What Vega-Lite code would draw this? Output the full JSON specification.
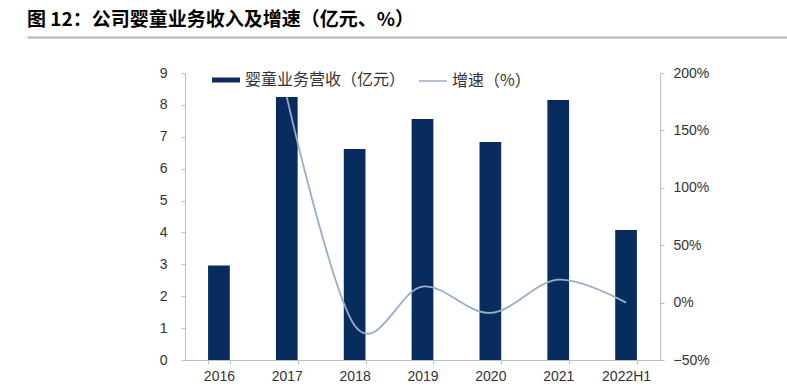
{
  "$schema": "https://vega.github.io/schema/vega-lite/v6.json",
  "padding": {"left": 27, "top": 11, "right": 0, "bottom": 0},
  "spacing": 28,
  "config": {"view": {"stroke": null}, "font": "Liberation Sans"},
  "datasets": {
    "main": [
      {"year": "2016", "revenue": 2.96, "growth": null},
      {"year": "2017", "revenue": 8.25, "growth": 1.79},
      {"year": "2018", "revenue": 6.62, "growth": -0.20},
      {"year": "2019", "revenue": 7.56, "growth": 0.14},
      {"year": "2020", "revenue": 6.84, "growth": -0.09},
      {"year": "2021", "revenue": 8.15, "growth": 0.20},
      {"year": "2022H1", "revenue": 4.08, "growth": 0.0}
    ]
  },
  "vconcat": [
    {
      "width": 760,
      "height": 1,
      "title": {
        "text": "图 12：公司婴童业务收入及增速（亿元、%）",
        "anchor": "start",
        "frame": "group",
        "font": "Noto Sans CJK SC",
        "fontSize": 19,
        "fontWeight": "bold",
        "color": "#000000",
        "offset": 7
      },
      "data": {"values": []},
      "mark": "rule",
      "encoding": {
        "x": {
          "field": "a",
          "type": "quantitative",
          "scale": {"domain": [0, 1]},
          "axis": {
            "orient": "top",
            "title": null,
            "labels": false,
            "ticks": false,
            "grid": false,
            "domainColor": "#b4b4b4",
            "domainWidth": 2
          }
        }
      }
    },
    {
      "width": 633,
      "height": 287,
      "data": {"name": "main"},
      "layer": [
        {
          "mark": {"type": "bar", "color": "#082c5d"},
          "encoding": {
            "x": {
              "field": "year",
              "type": "nominal",
              "sort": null,
              "scale": {"range": [158, 633], "paddingInner": 0.68, "paddingOuter": 0.34},
              "axis": {
                "title": null,
                "labelAngle": 0,
                "labelFont": "Liberation Sans",
                "labelFontSize": 14,
                "labelColor": "#333333",
                "labelPadding": 5,
                "tickBand": "extent",
                "tickSize": 4,
                "tickColor": "#bfbfbf",
                "domainColor": "#bfbfbf",
                "grid": false
              }
            },
            "y": {
              "field": "revenue",
              "type": "quantitative",
              "scale": {"domain": [0, 9], "nice": false},
              "axis": {
                "title": null,
                "offset": -158,
                "values": [0, 1, 2, 3, 4, 5, 6, 7, 8, 9],
                "format": "d",
                "labelFont": "Liberation Sans",
                "labelFontSize": 14,
                "labelColor": "#333333",
                "labelPadding": 14,
                "tickSize": 4,
                "tickColor": "#bfbfbf",
                "domainColor": "#bfbfbf",
                "grid": false
              }
            },
            "fill": {
              "datum": "婴童业务营收（亿元）",
              "type": "nominal",
              "scale": {"range": ["#082c5d"]},
              "legend": {
                "orient": "none",
                "legendX": 185,
                "legendY": -7,
                "title": null,
                "symbolType": "M-1,-0.18H1V0.18H-1Z",
                "symbolSize": 784,
                "symbolStrokeWidth": 0,
                "labelFont": "Noto Sans CJK SC",
                "labelFontSize": 16,
                "labelColor": "#333333",
                "labelOffset": 5,
                "labelLimit": 300,
                "padding": 0
              }
            }
          }
        },
        {
          "mark": {"type": "line", "interpolate": "cardinal", "strokeWidth": 1.8},
          "encoding": {
            "x": {"field": "year", "type": "nominal", "sort": null},
            "y": {
              "field": "growth",
              "type": "quantitative",
              "scale": {"domain": [-0.5, 2.0], "nice": false},
              "axis": {
                "title": null,
                "orient": "right",
                "values": [-0.5, 0, 0.5, 1.0, 1.5, 2.0],
                "format": ".0%",
                "labelFont": "Liberation Sans",
                "labelFontSize": 14,
                "labelColor": "#333333",
                "labelPadding": 9,
                "tickSize": 4,
                "tickColor": "#bfbfbf",
                "domainColor": "#bfbfbf",
                "grid": false
              }
            },
            "stroke": {
              "datum": "增速（%）",
              "type": "nominal",
              "scale": {"range": ["#98aec6"]},
              "legend": {
                "orient": "none",
                "legendX": 391,
                "legendY": -7,
                "title": null,
                "symbolType": "stroke",
                "symbolSize": 784,
                "symbolStrokeWidth": 1.5,
                "labelFont": "Noto Sans CJK SC",
                "labelFontSize": 16,
                "labelColor": "#333333",
                "labelOffset": 4,
                "padding": 0
              }
            }
          }
        }
      ],
      "resolve": {"scale": {"y": "independent", "fill": "independent", "stroke": "independent"}}
    }
  ]
}
